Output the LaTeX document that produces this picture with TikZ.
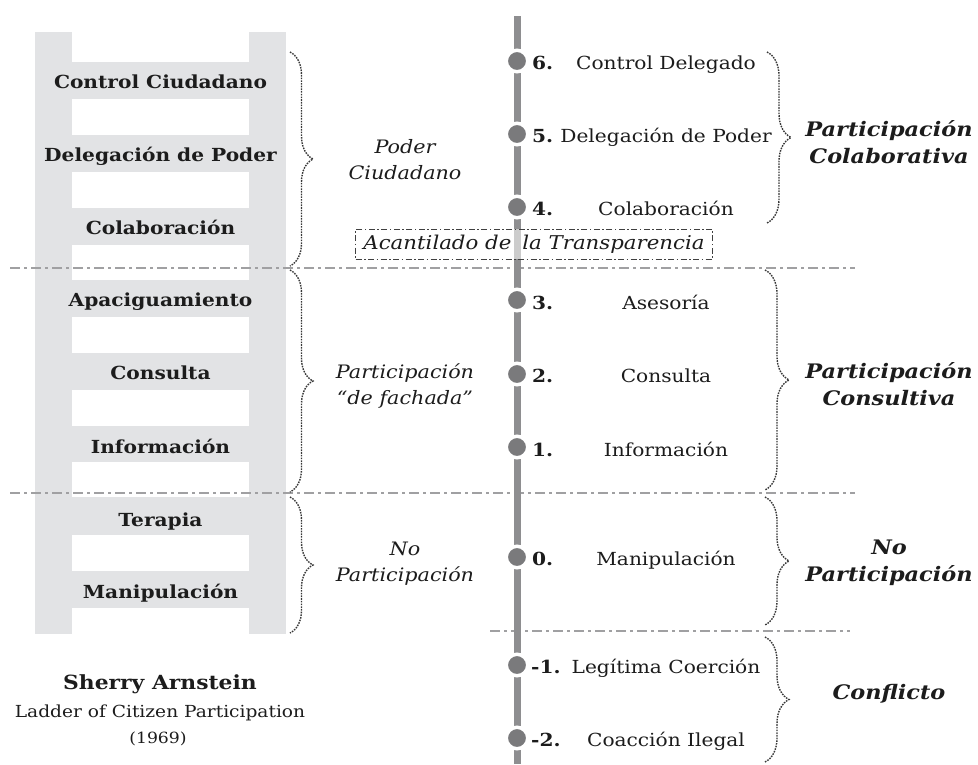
\documentclass[tikz,border=0pt]{standalone}
\usepackage{fontspec}
\setmainfont{DejaVu Serif}[FakeStretch=1.12]
\usetikzlibrary{decorations.pathreplacing}
\definecolor{laddergray}{HTML}{E2E3E5}
\definecolor{linegray}{HTML}{8E8E90}
\definecolor{dotgray}{HTML}{7A7A7C}
\definecolor{divgray}{HTML}{A0A0A2}
\definecolor{ink}{HTML}{1C1C1C}
\tikzset{
  rung/.style={font=\fontsize{18}{21}\selectfont\bfseries, text=ink, anchor=base},
  lvl/.style={font=\fontsize{18}{21}\selectfont, text=ink, anchor=base},
  num/.style={font=\fontsize{18}{21}\selectfont\bfseries, text=ink, anchor=base west, inner sep=0pt},
  grp/.style={font=\fontsize{18.5}{26}\selectfont\itshape, text=ink, align=center},
  cat/.style={font=\fontsize{20}{27}\selectfont\bfseries\itshape, text=ink, align=center},
  divline/.style={draw=divgray, line width=2.2pt, dash pattern=on 10pt off 4pt on 3pt off 4pt},
  brc/.style={decorate, decoration={brace, amplitude=#1}, dash pattern=on 1.6pt off 1.1pt, line width=1.4pt, draw=black!78},
  dot/.style={circle, fill=dotgray, draw=white, line width=3.5pt, minimum size=21.5pt, inner sep=0pt},
  vline/.style={draw=linegray, line width=7pt},
  cliffbox/.style={draw=black!75, line width=1pt, dash pattern=on 6pt off 2.5pt on 1.5pt off 2.5pt, fill=white, fill opacity=0.55, text opacity=1, minimum width=357pt, minimum height=30pt, inner sep=0pt, font=\fontsize{19}{22}\selectfont\itshape, text=ink}
}
\begin{document}
\begin{tikzpicture}[x=1pt,y=-1pt]
\useasboundingbox (0,0) rectangle (978,764);
% ladder
\fill[laddergray] (35,32) rectangle (286,634);
\foreach \a/\b in {32/62,99/135,172/208,245/280,317/353,390/426,462/497,535/571,608/634}
  \fill[white] (72,\a) rectangle (249,\b);
\node[rung] (r8) at (160.5,88) {Control Ciudadano};
\node[rung] (r7) at (160.5,161) {Delegación de Poder};
\node[rung] (r6) at (160.5,234) {Colaboración};
\node[rung] (r5) at (160.5,306) {Apaciguamiento};
\node[rung] (r4) at (160.5,379) {Consulta};
\node[rung] (r3) at (160.5,453) {Información};
\node[rung] (r2) at (160.5,526) {Terapia};
\node[rung] (r1) at (160.5,598) {Manipulación};
% caption
\node[font=\fontsize{19.5}{22}\selectfont\bfseries, text=ink, anchor=base] (author) at (160,689) {Sherry Arnstein};
\node[font=\fontsize{16.6}{19}\selectfont, text=ink, anchor=base] (title) at (160,717) {Ladder of Citizen Participation};
\node[font=\fontsize{15.4}{18}\selectfont, text=ink, anchor=base] (year) at (158,743) {(1969)};
% divider lines
\coordinate (h1a) at (10,268); \coordinate (h1b) at (855,268);
\coordinate (h2a) at (10,493); \coordinate (h2b) at (855,493);
\coordinate (h3a) at (490,631); \coordinate (h3b) at (850,631);
\draw[divline] (h1a) -- (h1b);
\draw[divline] (h2a) -- (h2b);
\draw[divline] (h3a) -- (h3b);
% vertical scale
\coordinate (vtop) at (517,16); \coordinate (vbot) at (517,764);
\draw[vline] (vtop) -- (vbot);
\node[cliffbox] (cliff) at (534,244) {Acantilado de\hspace{11pt}la Transparencia};
\foreach \n/\y in {6/61,5/134,4/207,3/300,2/374,1/447,0/557,m1/665,m2/738}
  \node[dot] (d\n) at (517,\y) {};
\node[num] (n6) at (532,69.5) {6.};
\node[num] (n5) at (532,142.5) {5.};
\node[num] (n4) at (532,215.5) {4.};
\node[num] (n3) at (532,309) {3.};
\node[num] (n2) at (532,382.5) {2.};
\node[num] (n1) at (532,456) {1.};
\node[num] (n0) at (532,565.5) {0.};
\node[num] (nm1) at (531,673.5) {-1.};
\node[num] (nm2) at (531,746.5) {-2.};
\node[lvl] (l6) at (666,69.5) {Control Delegado};
\node[lvl] (l5) at (666,142.5) {Delegación de Poder};
\node[lvl] (l4) at (666,215.5) {Colaboración};
\node[lvl] (l3) at (666,309) {Asesoría};
\node[lvl] (l2) at (666,382.5) {Consulta};
\node[lvl] (l1) at (666,456) {Información};
\node[lvl] (l0) at (666,565.5) {Manipulación};
\node[lvl] (lm1) at (666,673.5) {Legítima Coerción};
\node[lvl] (lm2) at (666,746.5) {Coacción Ilegal};
% left braces
\coordinate (lb1t) at (290,52);  \coordinate (lb1b) at (290,266);
\coordinate (lb2t) at (290,270); \coordinate (lb2b) at (290,492);
\coordinate (lb3t) at (290,497); \coordinate (lb3b) at (290,633);
\draw[brc=23pt] (lb1t) -- (lb1b);
\draw[brc=23pt] (lb2t) -- (lb2b);
\draw[brc=23pt] (lb3t) -- (lb3b);
\node[grp] (g1) at (405,160) {Poder\\Ciudadano};
\node[grp] (g2) at (405,386) {Participación\\“de fachada”};
\node[grp] (g3) at (405,564) {No\\Participación};
% right braces
\coordinate (rb1t) at (767,52);  \coordinate (rb1b) at (767,223);
\coordinate (rb2t) at (765,270); \coordinate (rb2b) at (765,490);
\coordinate (rb3t) at (765,497); \coordinate (rb3b) at (765,625);
\coordinate (rb4t) at (765,637); \coordinate (rb4b) at (765,762);
\draw[brc=24pt] (rb1t) -- (rb1b);
\draw[brc=24pt] (rb2t) -- (rb2b);
\draw[brc=24pt] (rb3t) -- (rb3b);
\draw[brc=24pt] (rb4t) -- (rb4b);
\node[cat] (c1) at (889,142) {Participación\\Colaborativa};
\node[cat] (c2) at (889,384) {Participación\\Consultiva};
\node[cat] (c3) at (889,563) {No\\Participación};
\node[cat] (c4) at (889,694) {Conflicto};
\end{tikzpicture}
\end{document}
